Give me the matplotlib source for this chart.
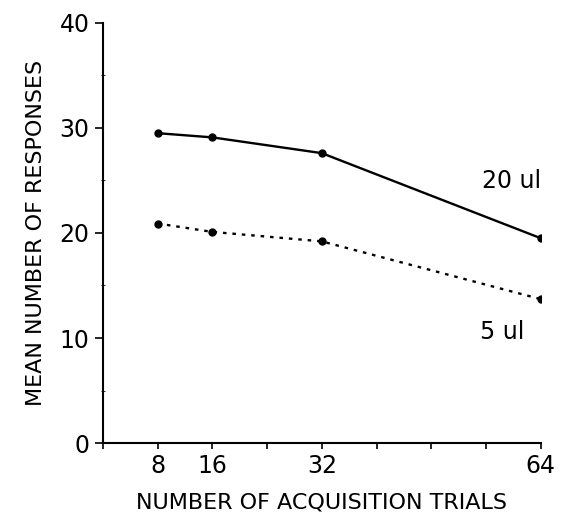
import matplotlib.pyplot as plt

# Data
trials = [8, 16, 32, 64]
resp_20ul = [29.5, 29.1, 27.6, 19.5]
resp_5ul = [20.9, 20.1, 19.2, 13.7]

fig = plt.figure(figsize=(5.68, 5.2), dpi=100)
ax = fig.add_axes([0.181, 0.148, 0.771, 0.808])

ax.plot(trials, resp_20ul, 'k-o', linewidth=1.7, markersize=5)
ax.plot(trials, resp_5ul, 'k:o', linewidth=1.7, markersize=5, dashes=(1.5, 2.5))

ax.text(59.7, 24.9, '20 ul', fontsize=17, ha='center', va='center')
ax.text(58.4, 10.6, '5 ul', fontsize=17, ha='center', va='center')

ax.set_xlim(0, 64)
ax.set_ylim(0, 40)
ax.set_xticks(range(0, 65, 8))
ax.set_xticklabels(['', '8', '16', '', '32', '', '', '', '64'])
ax.set_yticks([0, 10, 20, 30, 40])
ax.set_yticks(range(5, 40, 10), minor=True)
ax.tick_params(axis='both', labelsize=17, width=1.2, length=6, direction='out')
ax.tick_params(axis='x', length=4, pad=4)
ax.tick_params(axis='y', which='minor', length=3, direction='inout')

for side in ['top', 'right']:
    ax.spines[side].set_visible(False)
for side in ['left', 'bottom']:
    ax.spines[side].set_linewidth(1.5)

ax.set_xlabel('NUMBER OF ACQUISITION TRIALS', fontsize=16, labelpad=10)
ax.set_ylabel('MEAN NUMBER OF RESPONSES', fontsize=16, labelpad=10)

plt.savefig('out.png', dpi=100)
